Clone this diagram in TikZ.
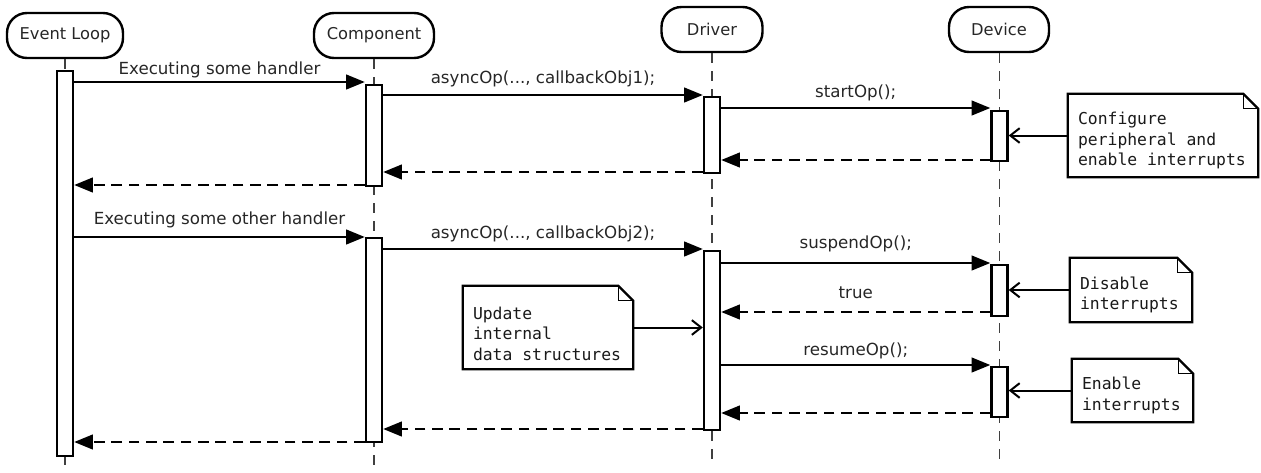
\documentclass[tikz,border=0pt]{standalone}
\usepackage{fontspec}
\setmainfont{DejaVu Sans}
\newfontfamily\notemono{DejaVu Sans Mono}
\usetikzlibrary{arrows.meta}
\begin{document}
\begin{tikzpicture}[x=0.75pt,y=-0.75pt,
  actor/.style={draw, line width=1.8pt, rounded corners=15pt, minimum height={45*0.75pt},
    font=\fontsize{12.2}{14}\selectfont, text=black!85, inner sep=0pt},
  lifeline/.style={line width=0.8pt, dash pattern=on 7.5pt off 6pt, black!75},
  bar/.style={draw, fill=white, line width=1.8pt, minimum width={16*0.75pt}, inner sep=0pt, anchor=north},
  msg/.style={line width=1.6pt, -{Triangle[length=14pt,width=11pt]}},
  ret/.style={msg, dash pattern=on 8pt off 5pt},
  lbl/.style={font=\fontsize{12.5}{15}\selectfont, text=black!85, inner sep=0pt, anchor=base},
  noteframe/.style={inner sep=0pt},
  noteline/.style={line width=1.7pt, line join=miter},
  notetext/.style={font=\notemono\fontsize{12.3}{15.4}\selectfont, align=left, anchor=west,
    inner sep=0pt, text=black!90},
  notelink/.style={line width=1.5pt, -{Straight Barb[length=7pt,width=11pt]}}
]
\useasboundingbox (0,0) rectangle (1261,472);

% participants
\node[actor, minimum width={116*0.75pt}] (el)   at (65,35.5)  {Event Loop};
\node[actor, minimum width={120*0.75pt}] (comp) at (374,35.5) {Component};
\node[actor, minimum width={101*0.75pt}] (drv)  at (712,29.5) {Driver};
\node[actor, minimum width={100*0.75pt}] (dev)  at (999,29.5) {Device};

% tops of the activation bars
\path
  (65,70)    coordinate (elTop)
  (374,84)   coordinate (compTopA)
  (374,237)  coordinate (compTopB)
  (712,96)   coordinate (drvTopA)
  (712,250)  coordinate (drvTopB)
  (999.5,110) coordinate (devTopA)
  (999.5,264) coordinate (devTopB)
  (999.5,366) coordinate (devTopC);

% lifelines
\draw[lifeline] (el.south) -- (elTop);
\draw[lifeline] (el.south |- 0,455) -- (el.south |- 0,470);
\draw[lifeline] (comp.south) -- (comp.south |- 0,472);
\draw[lifeline] (drv.south) -- (drv.south |- 0,462);
\draw[lifeline] ([xshift=0.4pt]dev.south) -- ([xshift=0.4pt]dev.south |- 0,462);

% activation bars
\node[bar, minimum height={385*0.75pt}] (elA)   at (elTop) {};
\node[bar, minimum height={101*0.75pt}] (compA) at (compTopA) {};
\node[bar, minimum height={204*0.75pt}] (compB) at (compTopB) {};
\node[bar, minimum height={76*0.75pt}]  (drvA)  at (drvTopA) {};
\node[bar, minimum height={179*0.75pt}] (drvB)  at (drvTopB) {};
\node[bar, minimum height={50*0.75pt}]  (devA)  at (devTopA) {};
\node[bar, minimum height={51*0.75pt}]  (devB)  at (devTopB) {};
\node[bar, minimum height={50*0.75pt}]  (devC)  at (devTopC) {};

% first request
\draw[msg] (elA.east |- 0,82) -- node[lbl, midway, yshift={8*0.75pt}] {Executing some handler} (compA.west |- 0,82);
\draw[msg] (compA.east |- 0,95) -- node[lbl, midway, yshift={12*0.75pt}] {asyncOp(..., callbackObj1);} (drvA.west |- 0,95);
\draw[msg] (drvA.east |- 0,108) -- node[lbl, midway, yshift={11*0.75pt}] {startOp();} (devA.west |- 0,108);
\draw[ret] (devA.west |- 0,160) -- (drvA.east |- 0,160);
\draw[ret] (drvA.west |- 0,172) -- (compA.east |- 0,172);
\draw[ret] (compA.west |- 0,185) -- (elA.east |- 0,185);

% second request
\draw[msg] (elA.east |- 0,237) -- node[lbl, midway, yshift={13*0.75pt}] {Executing some other handler} (compB.west |- 0,237);
\draw[msg] (compB.east |- 0,249) -- node[lbl, midway, yshift={11*0.75pt}] {asyncOp(..., callbackObj2);} (drvB.west |- 0,249);
\draw[msg] (drvB.east |- 0,263) -- node[lbl, midway, yshift={15*0.75pt}] {suspendOp();} (devB.west |- 0,263);
\draw[ret] (devB.west |- 0,312) -- node[lbl, midway, yshift={14*0.75pt}] {true} (drvB.east |- 0,312);
\draw[msg] (drvB.east |- 0,365) -- node[lbl, midway, yshift={10*0.75pt}] {resumeOp();} (devC.west |- 0,365);
\draw[ret] (devC.west |- 0,413) -- (drvB.east |- 0,413);
\draw[ret] (drvB.west |- 0,429) -- (compB.east |- 0,429);
\draw[ret] (compB.west |- 0,442) -- (elA.east |- 0,442);

% notes
\node[noteframe, minimum width={190*0.75pt}, minimum height={83*0.75pt}] (n1) at (1163,135.5) {};
\node[noteframe, minimum width={170*0.75pt}, minimum height={83*0.75pt}] (n2) at (548,327.5) {};
\node[noteframe, minimum width={122*0.75pt}, minimum height={64*0.75pt}] (n3) at (1131,290) {};
\node[noteframe, minimum width={121*0.75pt}, minimum height={63*0.75pt}] (n4) at (1132.5,390.5) {};
\foreach \n in {n1,n2,n3,n4}{
  \draw[noteline] (\n.north west) -- ([xshift=-11.25pt]\n.north east)
    -- ([yshift=-11.25pt]\n.north east) -- (\n.south east) -- (\n.south west) -- cycle;
  \draw[line width=1pt] ([xshift=-11.25pt]\n.north east) |- ([yshift=-11.25pt]\n.north east);
}
\node[notetext] (n1t) at ([xshift=7.5pt,yshift=-3.75pt]n1.west) {Configure\\peripheral and\\enable interrupts};
\node[notetext] (n2t) at ([xshift=7.5pt,yshift=-4.5pt]n2.west) {Update\\internal\\data structures};
\node[notetext] (n3t) at ([xshift=7.5pt,yshift=-3.75pt]n3.west) {Disable\\interrupts};
\node[notetext] (n4t) at ([xshift=7.5pt,yshift=-3.75pt]n4.west) {Enable\\interrupts};

\draw[notelink] (n1.west) -- (devA.east |- n1.west);
\draw[notelink] (n2.east) -- (drvB.west |- n2.east);
\draw[notelink] (n3.west) -- (devB.east |- n3.west);
\draw[notelink] (n4.west) -- (devC.east |- n4.west);
\end{tikzpicture}
\end{document}
